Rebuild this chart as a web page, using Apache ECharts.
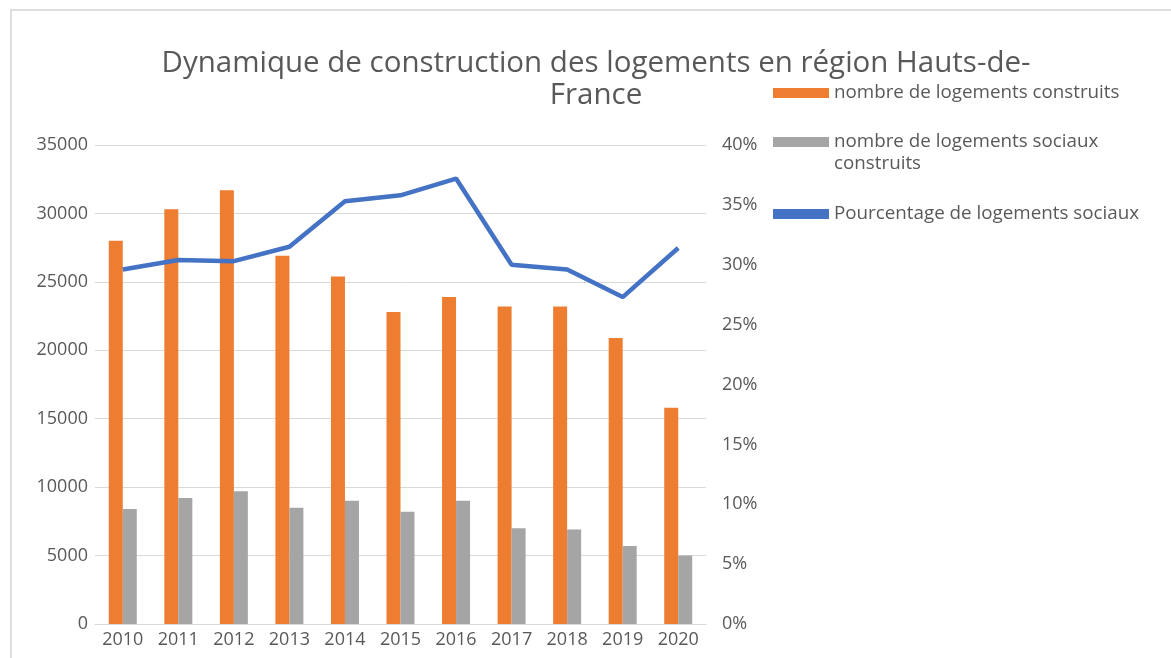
<!DOCTYPE html>
<html>
<head>
<meta charset="utf-8">
<script src="https://cdn.jsdelivr.net/npm/echarts@6/dist/echarts.min.js"></script>
<style>
  html, body { margin: 0; padding: 0; background: #fff; }
  #chart { width: 1171px; height: 658px; }
</style>
</head>
<body>
<div id="chart"></div>
<script>
const years = ['2010', '2011', '2012', '2013', '2014', '2015', '2016', '2017', '2018', '2019', '2020']
// nombre de logements construits
const logements = [28000, 30300, 31700, 26900, 25400, 22800, 23900, 23200, 23200, 20900, 15800]
// nombre de logements sociaux construits
const sociaux = [8400, 9200, 9700, 8500, 9000, 8200, 9000, 7000, 6900, 5700, 5000]
// pourcentage de logements sociaux (%)
const pourcentage = [29.6, 30.4, 30.3, 31.5, 35.3, 35.8, 37.2, 30.0, 29.6, 27.3, 31.4]

const font = 'Open Sans'
const textGray = '#595959'
const gridGray = '#d9d9d9'

const chart = echarts.init(document.getElementById('chart'))

const legendBase = {
  orient: 'horizontal',
  left: 773,
  padding: 0,
  icon: 'rect',
  itemWidth: 56,
  itemHeight: 10,
  itemGap: 8,
  textStyle: { fontFamily: font, fontSize: 18.8, color: textGray, lineHeight: 22 }
}

chart.setOption({
  backgroundColor: '#fff',
  animation: false,
  title: {
    text: 'Dynamique de construction des logements en région Hauts-de-\nFrance',
    left: 596,
    top: 48,
    padding: 0,
    textAlign: 'center',
    textStyle: {
      fontFamily: font,
      fontSize: 29.5,
      fontWeight: 'normal',
      color: textGray,
      lineHeight: 32,
      align: 'center'
    }
  },
  graphic: [
    {
      type: 'rect',
      shape: { x: 11, y: 10, width: 1200, height: 700 },
      style: { fill: 'none', stroke: '#dedede', lineWidth: 2 },
      silent: true
    }
  ],
  legend: [
    Object.assign({}, legendBase, { top: 82, data: ['nombre de logements construits'] }),
    Object.assign({}, legendBase, {
      top: 109,
      data: ['nombre de logements sociaux construits'],
      // ligne vide en tête pour aligner le pictogramme sur la première ligne
      formatter: () => ' \nnombre de logements sociaux\nconstruits'
    }),
    Object.assign({}, legendBase, { top: 203, data: ['Pourcentage de logements sociaux'] })
  ],
  grid: { left: 95, right: 465, top: 145, bottom: 34, containLabel: false },
  xAxis: {
    type: 'category',
    data: years,
    axisTick: { show: false },
    axisLine: { lineStyle: { color: gridGray, width: 1 } },
    axisLabel: { fontFamily: font, fontSize: 18, color: textGray, margin: 7 }
  },
  yAxis: [
    {
      type: 'value',
      min: 0,
      max: 35000,
      interval: 5000,
      axisLine: { show: false },
      axisTick: { show: false },
      splitLine: { lineStyle: { color: gridGray, width: 1 } },
      axisLabel: {
        fontFamily: font,
        fontSize: 18,
        color: textGray,
        margin: 7,
        formatter: (v) => String(v)
      }
    },
    {
      type: 'value',
      min: 0,
      max: 40,
      interval: 5,
      axisLine: { show: false },
      axisTick: { show: false },
      splitLine: { show: false },
      axisLabel: {
        fontFamily: font,
        fontSize: 18,
        color: textGray,
        margin: 16,
        formatter: (v) => v + '%'
      }
    }
  ],
  series: [
    {
      name: 'nombre de logements construits',
      type: 'bar',
      data: logements,
      barWidth: 14,
      barGap: '0%',
      itemStyle: { color: '#ED7D31' }
    },
    {
      name: 'nombre de logements sociaux construits',
      type: 'bar',
      data: sociaux,
      barWidth: 14,
      barGap: '0%',
      itemStyle: { color: '#A5A5A5' }
    },
    {
      name: 'Pourcentage de logements sociaux',
      type: 'line',
      yAxisIndex: 1,
      data: pourcentage,
      symbol: 'none',
      lineStyle: { color: '#4472C4', width: 4.5 },
      itemStyle: { color: '#4472C4' },
      z: 5
    }
  ]
})
</script>
</body>
</html>
